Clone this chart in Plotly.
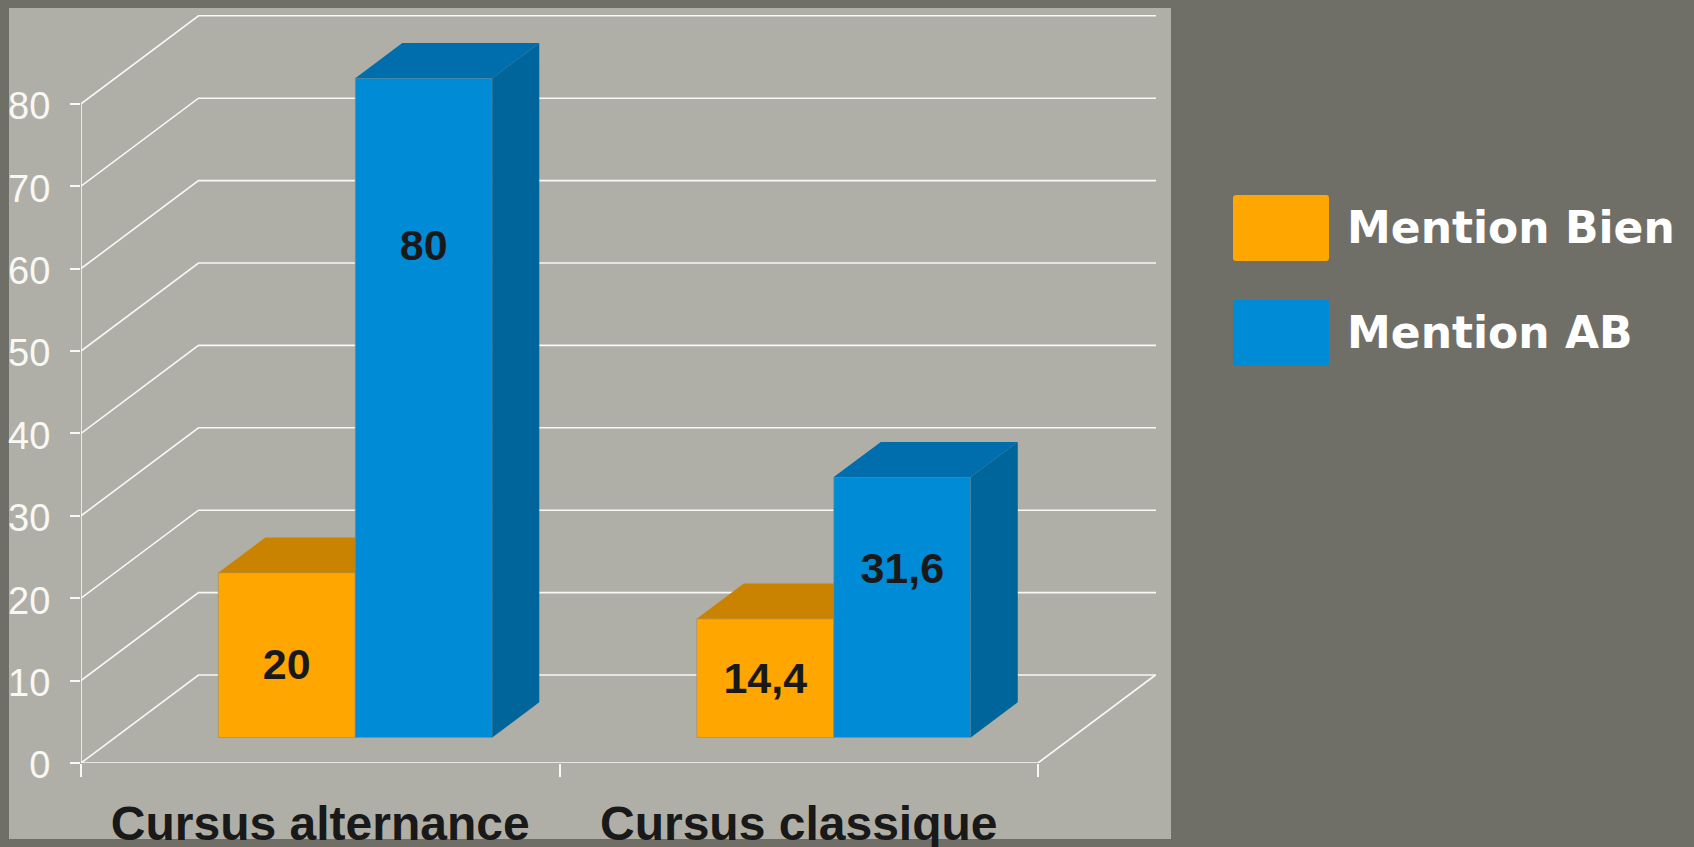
import plotly.graph_objects as go

# ---------- data ----------
categories = ["Cursus alternance", "Cursus classique"]
series_names = ["Mention Bien", "Mention AB"]
mention_bien = [20, 14.4]
mention_ab = [80, 31.6]
bien_labels = ["20", "14,4"]
ab_labels = ["80", "31,6"]
y_ticks = [0, 10, 20, 30, 40, 50, 60, 70, 80]

# ---------- styling / projection ----------
W, H = 1694, 847
PLOT_L, PLOT_R, PLOT_T, PLOT_B = 81, 1156, 15, 763
BG, PANEL = "#706F67", "#B0AFA7"
ORANGE = dict(front="#FFA600", top="#C98300", side="#B87800")
BLUE = dict(front="#008BD7", top="#006DAD", side="#00659A")
INK = "#191919"
WHITE = "#F8F8F4"

PX_PER_CAT = 478.5
PX_PER_UNIT = 82.4 / 10
DEPTH_X = 117.5 / PX_PER_CAT      # category units for the full floor depth
DEPTH_Y = 88 / PX_PER_UNIT        # value units for the full floor depth
Z0, Z1 = 0.29, 0.69               # bar position in the depth
Z0_X = 0.298
BAR_W = 137 / PX_PER_CAT
XMAX = (PLOT_R - PLOT_L) / PX_PER_CAT
YMAX = (PLOT_B - PLOT_T) / PX_PER_UNIT
LABEL_FRAC = dict(bien=[0.42, 0.465], ab=[0.741, 0.636])


def px(x):
    return (x - PLOT_L) / (PLOT_R - PLOT_L)


def py(y):
    return (PLOT_B - y) / (PLOT_B - PLOT_T)


def rounded(x0, x1, y0, y1, r=3):
    """Rounded rectangle path in paper units, from pixel bounds."""
    a, b, c, d = px(x0), px(x1), py(y0), py(y1)
    ar, br, cr, dr = px(x0 + r), px(x1 - r), py(y0 + r), py(y1 - r)
    return (f"M{ar},{c} L{br},{c} Q{b},{c} {b},{cr} L{b},{dr} Q{b},{d} {br},{d} "
            f"L{ar},{d} Q{a},{d} {a},{dr} L{a},{cr} Q{a},{c} {ar},{c} Z")


n = len(categories)
fig = go.Figure()

# walls: gridlines, floor, axis lines (bottom layer)
gx, gy = [], []
for t in y_ticks:
    gx += [0, DEPTH_X, XMAX, None]
    gy += [t, t + DEPTH_Y, t + DEPTH_Y, None]
gx += [0, n, n + DEPTH_X, None, 0, 0]
gy += [0, 0, DEPTH_Y, None, 0, y_ticks[-1]]
fig.add_trace(go.Scatter(x=gx, y=gy, mode="lines", line=dict(color=WHITE, width=1.6),
                         hoverinfo="skip", showlegend=False, cliponaxis=False))


def add_series(values, colors, name, sign, axes):
    xa, ya = axes
    xs = [i + 0.5 + sign * BAR_W / 2 + Z0_X * DEPTH_X for i in range(n)]
    base = Z0 * DEPTH_Y
    dz = Z1 - Z0
    for xc, v in zip(xs, values):
        xl, xr = xc - BAR_W / 2, xc + BAR_W / 2
        ddx, ddy = dz * DEPTH_X, dz * DEPTH_Y
        fig.add_trace(go.Scatter(
            x=[xl, xr, xr + ddx, xl + ddx, xl],
            y=[base + v, base + v, base + v + ddy, base + v + ddy, base + v],
            mode="none", fill="toself", fillcolor=colors["top"],
            xaxis=xa, yaxis=ya, hoverinfo="skip", showlegend=False))
        fig.add_trace(go.Scatter(
            x=[xr, xr + ddx, xr + ddx, xr, xr],
            y=[base, base + ddy, base + ddy + v, base + v, base],
            mode="none", fill="toself", fillcolor=colors["side"],
            xaxis=xa, yaxis=ya, hoverinfo="skip", showlegend=False))
    fig.add_trace(go.Bar(x=xs, y=values, base=[base] * n, width=BAR_W, name=name,
                         marker=dict(color=colors["front"], line=dict(color="#8C8C84", width=0.6)),
                         xaxis=xa, yaxis=ya, showlegend=False))
    return xs, base


xs_b, base = add_series(mention_bien, ORANGE, series_names[0], -1, ("x2", "y2"))
xs_a, base = add_series(mention_ab, BLUE, series_names[1], 1, ("x3", "y3"))

# value labels
fig.add_trace(go.Scatter(
    x=xs_b + xs_a,
    y=[base + v * f for v, f in zip(mention_bien, LABEL_FRAC["bien"])]
      + [base + v * f for v, f in zip(mention_ab, LABEL_FRAC["ab"])],
    text=bien_labels + ab_labels, mode="text", textposition="middle center",
    textfont=dict(family="Liberation Sans", size=43, color=INK, weight="bold"),
    xaxis="x3", yaxis="y3", hoverinfo="skip", showlegend=False, cliponaxis=False))

# panel and custom legend
shapes = [dict(type="rect", xref="paper", yref="paper", layer="below",
               x0=px(9), x1=px(1171), y0=py(839), y1=py(8),
               fillcolor=PANEL, line=dict(width=0))]
annotations = []
for name, col, (top, bottom) in zip(series_names, [ORANGE["front"], BLUE["front"]],
                                    [(195, 261), (300, 366)]):
    shapes.append(dict(type="path", xref="paper", yref="paper", layer="above",
                       path=rounded(1233, 1329, top, bottom),
                       fillcolor=col, line=dict(width=0)))
    annotations.append(dict(xref="paper", yref="paper", x=px(1345), y=py((top + bottom) / 2 - 1),
                            text=f"<b>{name}</b>", showarrow=False, xanchor="left", yanchor="middle",
                            font=dict(family="DejaVu Sans", size=44, color="white")))

hidden = dict(visible=False, range=[0, XMAX], fixedrange=True)
hidden_y = dict(visible=False, range=[0, YMAX], fixedrange=True)
fig.update_layout(
    width=W, height=H, autosize=False,
    margin=dict(l=PLOT_L, r=W - PLOT_R, t=PLOT_T, b=H - PLOT_B, pad=0, autoexpand=False),
    paper_bgcolor=BG, plot_bgcolor="rgba(0,0,0,0)",
    barmode="overlay", showlegend=False, shapes=shapes, annotations=annotations,
    xaxis=dict(range=[0, XMAX], showgrid=False, zeroline=False, showline=False,
               tickmode="array", tickvals=[i + 0.5 for i in range(n)], ticktext=categories,
               ticks="", ticklabelstandoff=28,
               tickfont=dict(family="Liberation Sans", size=48, color=INK, weight="bold"),
               minor=dict(tickmode="array", tickvals=list(range(n + 1)), ticks="outside",
                          ticklen=13, tickwidth=1.6, tickcolor=WHITE, showgrid=False)),
    yaxis=dict(range=[0, YMAX], showgrid=False, zeroline=False, showline=False,
               tickmode="array", tickvals=y_ticks, ticks="outside", ticklen=10, tickwidth=1.6,
               tickcolor=WHITE, ticklabelstandoff=12, ticklabelshift=2,
               tickfont=dict(family="Liberation Sans", size=38, color=WHITE)),
    xaxis2=dict(overlaying="x", **hidden), yaxis2=dict(overlaying="y", **hidden_y),
    xaxis3=dict(overlaying="x", **hidden), yaxis3=dict(overlaying="y", **hidden_y),
)

fig.write_html("out.html", config={"displayModeBar": False},
               post_script="document.body.style.margin='0';document.body.style.overflow='hidden';"
                           f"document.body.style.background='{BG}';")
